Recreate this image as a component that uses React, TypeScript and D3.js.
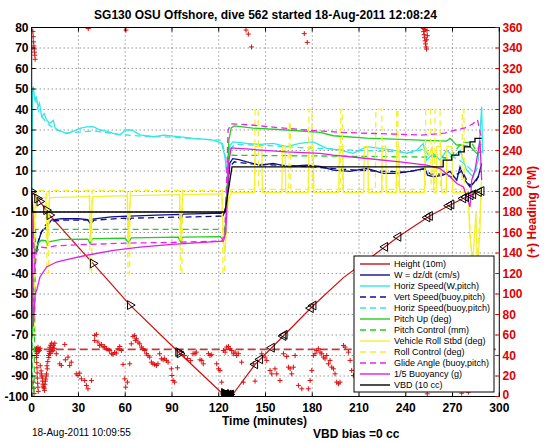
import React from 'react';
import * as d3 from 'd3';

// ---------- axes / ticks ----------
const xTickVals = [0, 30, 60, 90, 120, 150, 180, 210, 240, 270, 300];
const yTickVals = [-100, -90, -80, -70, -60, -50, -40, -30, -20, -10, 0, 10, 20, 30, 40, 50, 60, 70, 80];
const hTickVals = [0, 20, 40, 60, 80, 100, 120, 140, 160, 180, 200, 220, 240, 260, 280, 300, 320, 340, 360];

const titleText = 'SG130 OSU Offshore, dive 562 started 18-Aug-2011 12:08:24';
const xLabel = 'Time (minutes)';
const yRightLabel = '(+) Heading (\u00B0M)';
const stampText = '18-Aug-2011 10:09:55';
const vbdText = 'VBD bias =0 cc';

// ---------- data (time min, value) ----------
const heightPts: [number, number][] = [
  [0, 0], [3.6, -3.4], [9.4, -9.1], [11.5, -11.5], [39.3, -35.1], [63.1, -55.4], [94.1, -78.3],
  [123, -99], [125, -100], [128, -100], [143.3, -84.3], [154, -76.2], [161.4, -70.5], [180.7, -55.6],
  [200, -42], [226.7, -27], [235.2, -22.1], [254.5, -12.3], [268.4, -6.6], [278, -2.9], [288.7, 0.3],
];
const markDownT = [0, 3.6, 5.1, 9.4, 11.5, 39.3, 63.1, 94.1, 95.0];
const markBottomT = [123.5, 124.5, 125.5, 126.3, 127, 127.8];
const markUpT = [143.3, 146.5, 154, 161.4, 162.2, 179, 180.7, 226.7, 235.2, 253.8, 255.4, 267.6, 269.2, 276.8, 278.6, 281.5, 283.2, 286.8, 288.5];

const wPts: [number, number][] = [
  [0, 0], [0.5, -5], [1, -22], [2, -30], [3, -29.5], [4.5, -24], [6.2, -19.7], [9.4, -17.3], [12.6, -14],
  [19, -13.2], [30, -13.3], [36, -13.7], [37.4, -15.5], [39, -13.5], [51, -12.4], [61, -12], [62, -14], [63, -12],
  [80, -11.5], [95, -11.2], [96, -13], [97, -11], [110, -10.8], [122, -10.5], [123, -11.5], [124.5, -8],
  [127.2, 14], [129, 16], [133, 15.5], [138, 14.5], [146.5, 12.8], [155, 13.7], [163.6, 12.3], [176.4, 12.8],
  [185, 12.3], [193.5, 10.4], [204, 9.8], [215, 11.2], [225.6, 8.8], [234, 8.8], [242.7, 9.8], [252.3, 11.2],
  [254, 8], [257.7, 7.2], [264, 8], [268.4, 9.8], [272.7, 5.5], [274.8, 12], [278, 5.5], [281.2, 2.2],
  [283.3, 3.9], [286.5, 7.2], [288.7, 13.7],
];
const vertSpdPts: [number, number][] = [
  [1, -26], [3, -28], [5, -22], [8, -17], [12, -14.5], [20, -14], [36, -14], [38, -15.5], [40, -14], [60, -13],
  [62, -14.5], [64, -13], [94, -12.5], [96, -14], [98, -12.5], [122, -12], [124, -10], [127, 12], [130, 14.5],
  [140, 13.5], [160, 12.8], [180, 12], [200, 10.8], [220, 10], [240, 9.5], [252, 11], [256, 8.5], [264, 8.5],
  [270, 7], [276, 10], [281, 3], [285, 5], [288.5, 10],
];
const horizWPts: [number, number][] = [
  [0, 0], [0.6, 50], [1, 51.2], [2.1, 44.6], [3, 46], [4.2, 41.4], [5, 43], [6.4, 36.5], [8, 38], [9.6, 34.8],
  [11.7, 33.2], [13.9, 34.8], [15, 31], [17, 30], [22.4, 28.3], [27, 29.5], [31, 30.8], [35, 31.5], [39.5, 31.6],
  [43.8, 30], [48, 29.5], [52.4, 28.3], [56.7, 27.6], [59.9, 30], [64.2, 30], [69.5, 27.6], [78, 26.8], [85, 27.5],
  [90.9, 27], [97, 26.5], [103.7, 25.9], [110, 25.5], [116.5, 25.1], [121.9, 23.5], [124, 16.9], [125.1, 8.8],
  [126.2, 15], [127.2, 22.6], [129.3, 24.2], [138, 23.5], [146.5, 23], [155, 23.5], [163.6, 21.9], [172, 23.5],
  [180.7, 24.2], [185, 22.6], [189.3, 21], [197.8, 20.2], [206.3, 18.6], [215, 21.9], [223.5, 21], [232, 20.2],
  [240.6, 18.6], [247, 20.2], [251.2, 23.4], [253.4, 15.3], [257.7, 18.6], [262, 15.3], [266.2, 20.2],
  [270.5, 16.9], [274.8, 20.2], [279, 10.4], [283.3, 7.2], [286.5, 15.3], [288.7, 41.4], [289.3, 18.6],
];
const horizBuoyPts: [number, number][] = [
  [2, 46], [4, 40], [6, 37], [9, 34], [12, 32], [16, 30], [22, 28.5], [30, 29], [40, 29.5], [55, 28], [70, 27],
  [90, 26.5], [110, 25.5], [122, 25], [124, 18], [125, 10], [127, 20], [130, 23], [150, 22.5], [170, 21.5],
  [190, 20.8], [210, 20], [230, 19.5], [245, 19], [252, 21], [255, 17], [260, 18], [265, 16], [270, 17],
  [275, 15], [280, 12], [284, 9], [288, 14],
];
const pitchPts: [number, number][] = [
  [0, 0], [0.4, -40], [0.8, -70], [1.2, -45], [2, -32], [3, -27], [4.5, -25], [6.2, -23.8], [9, -24], [10, -26],
  [11, -24.6], [19, -23.4], [36, -23.2], [37.5, -25.5], [39, -23], [60, -22.7], [62, -25], [64, -22.6],
  [94, -22.3], [95.5, -24.5], [97, -22.3], [121, -22], [123, -24], [124.5, -15], [126.5, 25], [128, 31],
  [130, 32], [142, 30.9], [163.6, 30], [185, 28.8], [193.5, 27.2], [215, 26], [236.3, 25.4], [257.7, 24.8],
  [266.2, 24.6], [268.4, 25.9], [272.6, 22.6], [274.8, 22.8], [281.2, 21.9], [285.5, 18.6], [288.7, 19.4],
];
const pitchCtlPts: [number, number][] = [
  [0, -20], [0.3, -100], [1.5, -100], [2, -60], [2.5, -18.5], [124, -18.5], [126, 17.7], [190, 17.3],
  [250, 16.8], [262, 17], [268, 16], [272, 20], [276, 24], [282, 24], [285, 20], [288.5, 23],
];
const rollPts: [number, number][] = [
  [0, 0], [0.6, -25], [1.2, -35], [2, -8], [3, -3], [9, -3], [9.6, -15], [10.2, -25], [10.8, -12], [11.5, -3],
  [37, -2.5], [37.5, -14], [38, -24], [38.6, -8], [39.2, -2.5], [61.3, -2], [61.8, -14], [62.3, -24], [62.9, -8],
  [63.5, -2], [94.8, -1.5], [95.3, -14], [95.8, -24], [96.4, -8], [97, -1.5], [122, -1.2], [122.5, -14],
  [123, -24], [124, -30], [126, -5], [128, -0.5], [143, -0.5], [143.4, 22], [147.6, 22], [148, -0.5],
  [160.5, -0.5], [160.9, 22], [162.6, 22], [163, -0.5], [177.5, -0.5], [177.9, 22], [180.6, 22], [181, -0.5],
  [197, -0.5], [197.4, 22], [199.6, 22], [200, -0.5], [213, -0.5], [213.4, 22], [215.6, 22], [216, -0.5],
  [224.5, -0.5], [224.9, 22], [227.1, 22], [227.5, -0.5], [234, -0.5], [234.4, 22], [235.6, 22], [236, -0.5],
  [252, -0.5], [252.4, 22], [255, 18], [257, 22], [258, -0.5], [259.5, -0.5], [259.9, 22], [262.6, 22],
  [263, -0.5], [266, -0.5], [266.4, 22], [269.6, 22], [270, -0.5], [280, -0.5], [281, -20], [283, -35],
  [285, -10], [286, -38], [287.5, -20], [288.5, 5],
];
const rollCtlPts: [number, number][] = [
  [0, 0], [0.8, -45], [1.5, -70], [2.3, -20], [3, 0.5], [9.4, 0.5], [9.8, -40], [10.8, -40], [11.2, 0.5],
  [37, 0.5], [37.4, -40], [38.4, -40], [38.8, 0.5], [61.4, 0.5], [61.8, -40], [62.8, -40], [63.2, 0.5],
  [95, 0.5], [95.4, -40], [96.4, -40], [96.8, 0.5], [122.3, 0.5], [122.7, -40], [123.7, -40], [125, -5],
  [128, 1], [143, 1], [143.3, 40], [145.3, 40], [145.6, 1], [165, 1], [165.3, 34], [166, 34], [166.3, 1],
  [177.5, 1], [177.8, 40], [179.8, 40], [180.1, 1], [198, 1], [198.3, 40], [199.2, 40], [199.5, 1],
  [220.5, 1], [220.8, 40], [224.6, 40], [224.9, 1], [233.8, 1], [234.1, 40], [234.9, 40], [235.2, 1],
  [252.5, 1], [252.8, 40], [256, 40], [256.3, 1], [258.5, 1], [258.8, 40], [262, 40], [262.3, 1],
  [276, 1], [276.3, 40], [277.3, 40], [277.6, 1], [280, 1], [282, -30], [284, -40], [286.5, -25], [288.5, 0],
];
const glidePts: [number, number][] = [
  [1, -20], [2, -40], [3, -30], [5, -27], [10, -27.5], [15, -26.5], [30, -26], [60, -25.2], [90, -24.8],
  [122, -24.2], [124, -20], [126, 30], [128, 33], [140, 32.5], [160, 31], [185, 29.5], [200, 28.8], [220, 28.3],
  [240, 27.8], [250, 27.5], [258, 28], [265, 28.5], [272, 30], [278, 31], [283, 33], [286, 35], [288.5, 26],
];
const buoyPts: [number, number][] = [
  [0, 0], [0.5, -30], [1, -66], [1.5, -60], [2.2, -50], [3.2, -48.2], [5.3, -41.7], [9.6, -36.8], [16, -34.4],
  [22.4, -33.2], [35.3, -31.1], [52.4, -28.7], [69.5, -27.1], [90, -25.8], [110, -24.8], [123, -24.2],
  [124.5, -20], [126.5, 15], [128, 21.3], [142, 20.5], [163.6, 19.3], [185, 18.6], [193.5, 17.7], [215, 16.1],
  [236.3, 14.5], [253.4, 12.9], [262, 11.2], [268.4, 7.2], [272.7, 3.9], [277, 2.2], [281.2, -7.5],
  [282.3, 5.5], [284.4, 10.4], [287.6, 25], [288.7, 5.5],
];
const vbdPts: [number, number][] = [
  [0, 0], [0.5, -10], [124, -10], [128.5, 12], [264, 12], [264, 15.3], [269.5, 15.3], [269.5, 17.7],
  [274, 17.7], [274, 19.3], [277.5, 19.3], [277.5, 21.8], [281.2, 21.8], [281.2, 24.2], [284.4, 24.2],
  [284.4, 25.9], [288.7, 25.9],
];

const headingTarget = 46;
const headingPts: [number, number][] = [
  [0.8, 356], [1.0, 351], [1.2, 346], [1.4, 342], [1.6, 339], [1.8, 336], [2.0, 333], [2.2, 329],
  [1.0, 14], [1.3, 8], [1.5, 3],
  [2.5, 46], [2.8, 44], [3.0, 47], [3.2, 45], [3.4, 42], [3.6, 46], [4.0, 48], [4.3, 44], [4.6, 46], [5.0, 45],
  [5.4, 47], [3.0, 38], [3.2, 33], [3.4, 28], [3.5, 23], [3.6, 18], [3.8, 13], [4.0, 9], [4.2, 5], [3.1, 40],
  [5.5, 30], [6, 25], [6.5, 20], [7, 15], [7.5, 10], [8, 8], [8.5, 12], [9, 17], [9.5, 22], [10, 27], [6.2, 22],
  [7.2, 12], [8.2, 6], [8.8, 15], [9.3, 20], [7.8, 9], [6.8, 18], [9.8, 30], [10.3, 34],
  [10.8, 40], [11.2, 44], [11.6, 48], [12, 50], [12.4, 46], [12.8, 52], [13.2, 48], [13.6, 45], [14, 50],
  [14.4, 47], [11, 38], [12, 42], [13, 44], [14.8, 52], [11.5, 42],
  [15.8, 41.7], [18.0, 31.9], [19.0, 30.3], [21.2, 50.8], [21.6, 35.8], [23.3, 38.4], [24.4, 30.3], [25.4, 33.5],
  [28.6, 22.1], [29.7, 20.5], [30.8, 22.8], [31.9, 17.2], [34.0, 15.6], [35.1, 10.8], [36.1, 7.5], [38.3, 15.6],
  [40.4, 59.6], [41.5, 60.6], [40.4, 54.7], [42.5, 53.1], [43.6, 49.8], [44.7, 50.8], [45.8, 48.2], [46.8, 48.8],
  [47.9, 46.6], [49, 45.6], [50, 44.9], [51.1, 41.7], [52.2, 41], [53.2, 43], [54.3, 42.3], [55.4, 46.6],
  [56.5, 48.8], [57.5, 44.9], [58.6, 31.3], [59.7, 17.2], [60.3, 9.1], [61.4, 14], [62.9, 31.9], [63.9, 51.4],
  [65, 58.6], [66.1, 59.6], [66.5, 54.7], [67.2, 56.3], [68.2, 53.1], [69.3, 51.4], [70.4, 48.2], [71.4, 46.6],
  [72.5, 44.9], [73.6, 41.7], [74.6, 40], [75.7, 38.4], [76.8, 33.5], [77.8, 31.9], [78.9, 31.3], [80, 30.3],
  [81, 31.9], [82.1, 41.7], [83.2, 36.8], [84.3, 35.8], [85.3, 36.8], [86.4, 35.2], [87.5, 33.5], [89.6, 27],
  [90, 20.5], [90.7, 15.6], [91.7, 14], [93.5, 28], [96, 44], [98, 40], [100, 37], [102, 35], [103.5, 41.7],
  [104.8, 41.7], [105.6, 43.3], [108, 35.8], [109.1, 35.2], [110.1, 31.9], [113.4, 41.7], [114.4, 40],
  [115.5, 40.7], [118.7, 31.9], [119.8, 27], [120.8, 25.4], [121.9, 14], [123, 44.9], [124.1, 43.3],
  [125.1, 48.2], [126.2, 48.8], [127.3, 46.6], [128.3, 44.9], [129.4, 41.7], [130.5, 43.3], [131.5, 40],
  [132.6, 41.7], [134.7, 33.5], [135.8, 14], [142.2, 31.9], [143.3, 15], [147.6, 41.7], [149.7, 38.4],
  [150.8, 35.2], [152.9, 25.4], [154, 22.1], [156.1, 27], [157.2, 22.1], [159.3, 15.6], [161.5, 41.7],
  [163.6, 39.1], [164.7, 28.6], [165.8, 27], [166.8, 22.1], [167.9, 28.6], [169, 40], [171.1, 10.8],
  [173.3, 7.5], [177.5, 7.5], [178.6, 15.6], [179.7, 25.4], [180.7, 40], [181.8, 41.7], [182.9, 44.9],
  [183.9, 46.6], [185, 43.3], [186.1, 41.7], [187.2, 38.4], [188.2, 36.8], [189.3, 40], [190.4, 31.9],
  [191.4, 35.2], [192.5, 28.6], [193.6, 27], [194.6, 22.1], [195.7, 14], [196.8, 12.4], [197.8, 14],
  [200, 49.8], [201.1, 48.2], [203.2, 43.3], [204.3, 35.2], [205.3, 25.4], [206.4, 20.5],
  [253.8, 2.6], [275.9, 3.2], [280.1, 4.2],
  [36.3, 359], [60.5, 357.5], [137.5, 357.5], [139, 353.6], [141, 341], [174.9, 354], [176.8, 345.5],
  [251.2, 359], [251.5, 356], [251.8, 353], [252.1, 350], [252.4, 347], [252.7, 344], [253, 341],
  [253.3, 339], [253.6, 357], [253.9, 352], [252.2, 358], [253.4, 348],
];

type Entry = { label: string; color: string; dash?: string; pts: [number, number][] };
const series: Entry[] = [
  { label: 'Height (10m)', color: '#cc1010', pts: heightPts },
  { label: 'W = dz/dt (cm/s)', color: '#10108a', pts: wPts },
  { label: 'Horiz Speed(W,pitch)', color: '#30e8e8', pts: horizWPts },
  { label: 'Vert Speed(buoy,pitch)', color: '#10108a', dash: '6,4', pts: vertSpdPts },
  { label: 'Horiz Speed(buoy,pitch)', color: '#30e8e8', dash: '6,4', pts: horizBuoyPts },
  { label: 'Pitch Up (deg)', color: '#20d020', pts: pitchPts },
  { label: 'Pitch Control (mm)', color: '#20d020', dash: '6,4', pts: pitchCtlPts },
  { label: 'Vehicle Roll Stbd (deg)', color: '#f4f030', pts: rollPts },
  { label: 'Roll Control (deg)', color: '#f4f030', dash: '6,4', pts: rollCtlPts },
  { label: 'Glide Angle (buoy,pitch)', color: '#f020f0', dash: '6,4', pts: glidePts },
  { label: '1/5 Buoyancy (g)', color: '#e020e0', pts: buoyPts },
  { label: 'VBD (10 cc)', color: '#000000', pts: vbdPts },
];

const L = 31.7, R = 499.3, T = 27.5, B = 396.5;
const FONT = '"Liberation Sans", Arial, Helvetica, sans-serif';

export default function App() {
  const x = d3.scaleLinear().domain([0, 300]).range([L, R]);
  const y = d3.scaleLinear().domain([-100, 80]).range([B, T]);
  const yh = d3.scaleLinear().domain([0, 360]).range([B, T]);
  const line = d3.line<[number, number]>().x(d => x(d[0])).y(d => y(d[1]));
  const hInterp = (t: number) => {
    const ts = heightPts.map(p => p[0]);
    const i = Math.max(1, Math.min(ts.length - 1, d3.bisectRight(ts, t)));
    const a = heightPts[i - 1], b = heightPts[i];
    const f = b[0] === a[0] ? 0 : (t - a[0]) / (b[0] - a[0]);
    return a[1] + f * (b[1] - a[1]);
  };
  const tri = d3.symbol(d3.symbolTriangle, 34)()!;
  const legX = 354, legY = 256, legW = 140, legH = 136;

  return (
    <svg width={546} height={442} style={{ position: 'absolute', left: 0, top: 0 }} fontFamily={FONT}>
      <defs>
        <clipPath id="plot"><rect x={L} y={T} width={R - L} height={B - T} /></clipPath>
      </defs>
      <rect width={546} height={442} fill="#fff" />
      {/* grid */}
      <g stroke="#444" strokeWidth={0.8} strokeDasharray="1,3">
        {xTickVals.slice(1, -1).map(v => <line key={'gx' + v} x1={x(v)} x2={x(v)} y1={T} y2={B} />)}
        {yTickVals.slice(1, -1).map(v => <line key={'gy' + v} x1={L} x2={R} y1={y(v)} y2={y(v)} />)}
      </g>
      <g clipPath="url(#plot)">
        <line x1={L} x2={R} y1={yh(headingTarget)} y2={yh(headingTarget)} stroke="#b84040" strokeWidth={1.8} strokeDasharray="8,4" />
        {headingPts.map((p, i) => (
          <path key={'h' + i} transform={`translate(${x(p[0])},${yh(p[1])})`} d="M-2.5,0H2.5M0,-2.5V2.5" stroke="#dd1010" strokeWidth={1} />
        ))}
        {series.map((s, i) => (
          <path key={'s' + i} d={line(s.pts)!} fill="none" stroke={s.color} strokeWidth={i === 0 ? 1.2 : 1.3} strokeDasharray={s.dash} />
        ))}
        {markDownT.map((t, i) => (
          <path key={'md' + i} d={tri} transform={`translate(${x(t)},${y(hInterp(t))}) rotate(90)`} fill="none" stroke="#000" strokeWidth={1} />
        ))}
        {markBottomT.map((t, i) => (
          <path key={'mb' + i} d={tri} transform={`translate(${x(t)},${y(hInterp(t)) - 2}) rotate(${i % 2 ? -90 : 90})`} fill="#000" stroke="#000" strokeWidth={1} />
        ))}
        {markUpT.map((t, i) => (
          <path key={'mu' + i} d={tri} transform={`translate(${x(t)},${y(hInterp(t))}) rotate(-90)`} fill="none" stroke="#000" strokeWidth={1} />
        ))}
      </g>
      {/* axes box & ticks */}
      <rect x={L} y={T} width={R - L} height={B - T} fill="none" stroke="#000" strokeWidth={1} />
      <g stroke="#000" strokeWidth={1}>
        {xTickVals.map(v => <line key={'tb' + v} x1={x(v)} x2={x(v)} y1={B} y2={B - 4} />)}
        {xTickVals.map(v => <line key={'tt' + v} x1={x(v)} x2={x(v)} y1={T} y2={T + 4} />)}
        {yTickVals.map(v => <line key={'tl' + v} x1={L} x2={L + 4} y1={y(v)} y2={y(v)} />)}
      </g>
      <g stroke="#e00000" strokeWidth={1}>
        {hTickVals.map(v => <line key={'tr' + v} x1={R} x2={R - 4} y1={yh(v)} y2={yh(v)} />)}
      </g>
      <g fontSize={12} fontWeight="bold" fill="#000">
        {yTickVals.map(v => <text key={'ly' + v} x={28.5} y={y(v)} dy="0.36em" textAnchor="end">{v}</text>)}
        {xTickVals.map(v => <text key={'lx' + v} x={x(v)} y={412} textAnchor="middle">{v}</text>)}
      </g>
      <g fontSize={12} fontWeight="bold" fill="#e00000">
        {hTickVals.map(v => <text key={'lh' + v} x={502.5} y={yh(v)} dy={v === 0 ? '0.2em' : '0.36em'}>{v}</text>)}
        <text transform={`translate(536,${(T + B) / 2}) rotate(-90)`} textAnchor="middle" fontSize={12}>{yRightLabel}</text>
      </g>
      <text x={(L + R) / 2} y={19} textAnchor="middle" fontSize={12} fontWeight="bold">{titleText}</text>
      <text x={(L + R) / 2 - 1} y={425} textAnchor="middle" fontSize={12} fontWeight="bold">{xLabel}</text>
      <text x={313} y={438} fontSize={12} fontWeight="bold">{vbdText}</text>
      <text x={32} y={436} fontSize={10}>{stampText}</text>
      {/* legend */}
      <rect x={legX} y={legY} width={legW} height={legH} fill="#fff" stroke="#000" strokeWidth={1} />
      {series.map((s, i) => {
        const ly = 264 + i * 11;
        return (
          <g key={'lg' + i}>
            <line x1={360} x2={390} y1={ly} y2={ly} stroke={s.color} strokeWidth={1.4} strokeDasharray={s.dash} />
            <text x={394} y={ly} dy="0.35em" fontSize={9}>{s.label}</text>
          </g>
        );
      })}
    </svg>
  );
}
